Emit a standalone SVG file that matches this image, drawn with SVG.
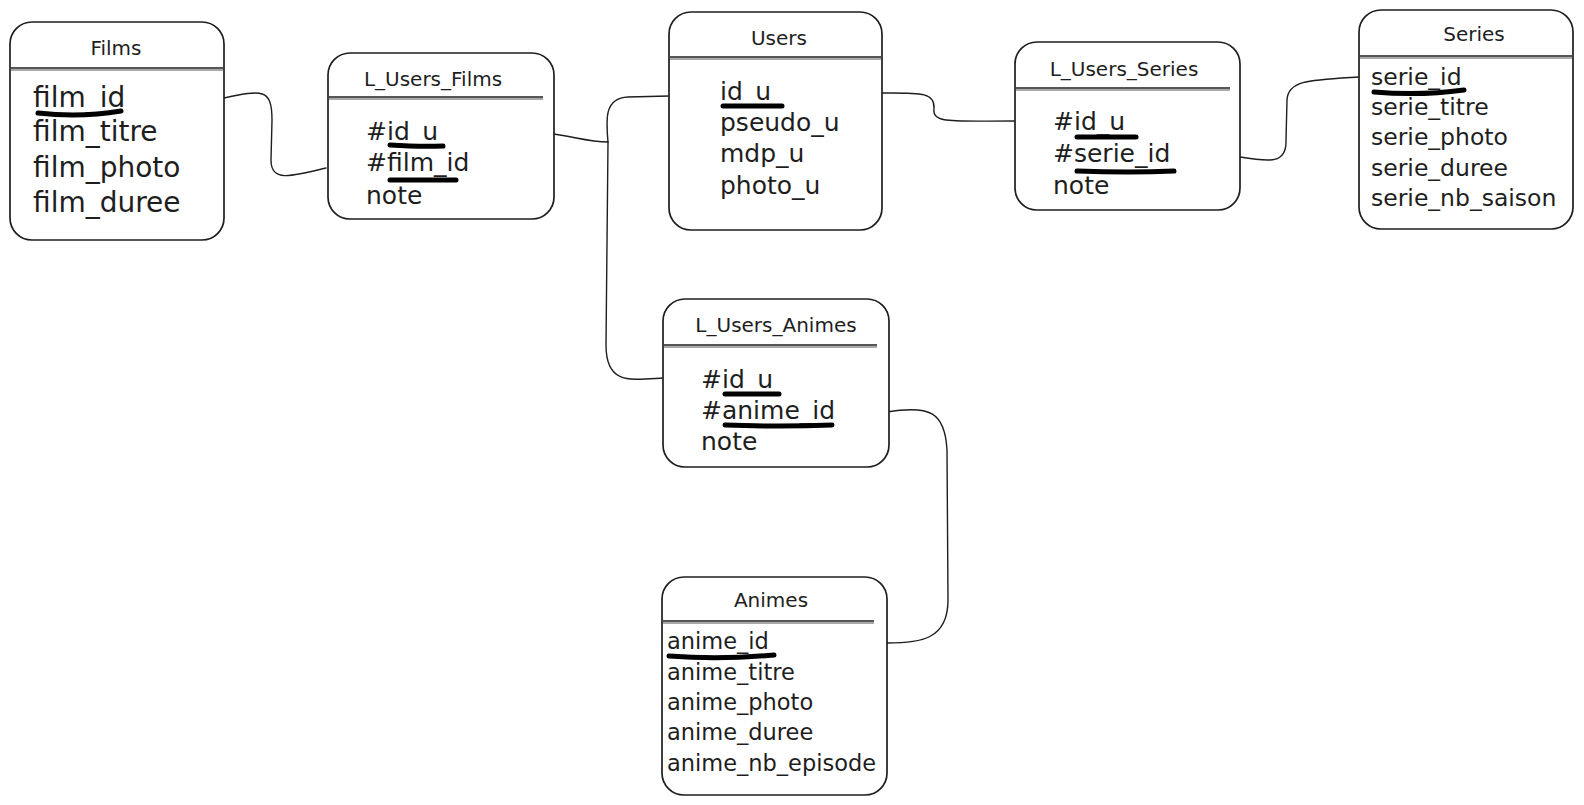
<svg xmlns="http://www.w3.org/2000/svg" width="1584" height="805" viewBox="0 0 1584 805">
<style>
.box{fill:#fff;stroke:#1e1e1e;stroke-width:1.7}
.sep{stroke:#1e1e1e;stroke-width:1.3;fill:none}
.sep2{stroke:#555;stroke-width:1;fill:none}
.title{font-family:"DejaVu Sans",sans-serif;font-size:20px;fill:#1e1e1e;text-anchor:middle}
.f{font-family:"DejaVu Sans",sans-serif;fill:#1e1e1e}
.ul{stroke:#000;stroke-width:5;stroke-linecap:round;fill:none}
.con{stroke:#1e1e1e;stroke-width:1.4;fill:none;stroke-linecap:round}
</style>
<rect width="1584" height="805" fill="#fff"/>
<g id="connectors">
<path class="con" d="M224,98 C262,90 272,88 272,120 L271,160 C271,182 290,177 326,168"/>
<path class="con" d="M554,134 C575,137 590,142 608,142 C606,120 604,98 628,97 L669,96"/>
<path class="con" d="M608,142 L606,345 C606,385 630,380 663,378"/>
<path class="con" d="M882,93 C920,93 935,92 934,108 C932,124 950,121 1015,121"/>
<path class="con" d="M1240,157 C1270,162 1287,164 1286,140 L1287,100 C1288,80 1310,80 1359,77"/>
<path class="con" d="M887,412 C930,405 945,412 947,450 L948,600 C948,640 920,643 887,643"/>
</g>
<g id="films">
<rect class="box" x="10" y="22" width="214" height="218" rx="22"/>
<line class="sep" x1="11" y1="68" x2="223" y2="68"/>
<line class="sep2" x1="11" y1="70" x2="223" y2="70"/>
<text class="title" x="116" y="55">Films</text>
<g class="f" font-size="28">
<text x="33" y="107">film_id</text>
<text x="33" y="141">film_titre</text>
<text x="33" y="177">film_photo</text>
<text x="33" y="212">film_duree</text>
</g>
<path class="ul" d="M38,113 Q80,118 121,111"/>
</g>
<g id="l_users_films">
<rect class="box" x="328" y="53" width="226" height="166" rx="22"/>
<line class="sep" x1="329" y1="97" x2="543" y2="97"/>
<line class="sep2" x1="329" y1="99" x2="543" y2="99"/>
<text class="title" x="433" y="86">L_Users_Films</text>
<g class="f" font-size="25">
<text x="366" y="140">#id_u</text>
<text x="366" y="171">#film_id</text>
<text x="366" y="204">note</text>
</g>
<path class="ul" d="M390,145 Q420,147 443,146"/>
<path class="ul" d="M390,180 L456,180"/>
</g>
<g id="users">
<rect class="box" x="669" y="12" width="213" height="218" rx="22"/>
<line class="sep" x1="670" y1="57" x2="881" y2="57"/>
<line class="sep2" x1="670" y1="59" x2="881" y2="59"/>
<text class="title" x="779" y="45">Users</text>
<g class="f" font-size="25">
<text x="720" y="100">id_u</text>
<text x="720" y="131">pseudo_u</text>
<text x="720" y="162">mdp_u</text>
<text x="720" y="194">photo_u</text>
</g>
<path class="ul" d="M723,106 L782,106"/>
</g>
<g id="l_users_series">
<rect class="box" x="1015" y="42" width="225" height="168" rx="22"/>
<line class="sep" x1="1016" y1="88" x2="1230" y2="88"/>
<line class="sep2" x1="1016" y1="90" x2="1230" y2="90"/>
<text class="title" x="1124" y="76">L_Users_Series</text>
<g class="f" font-size="25">
<text x="1053" y="130">#id_u</text>
<text x="1053" y="162">#serie_id</text>
<text x="1053" y="194">note</text>
</g>
<path class="ul" d="M1077,137 L1136,137"/>
<path class="ul" d="M1077,171 Q1130,173 1174,171"/>
</g>
<g id="series">
<rect class="box" x="1359" y="10" width="214" height="219" rx="22"/>
<line class="sep" x1="1360" y1="56" x2="1572" y2="56"/>
<line class="sep2" x1="1360" y1="58" x2="1572" y2="58"/>
<text class="title" x="1474" y="41">Series</text>
<g class="f" font-size="23.5">
<text x="1371" y="85">serie_id</text>
<text x="1371" y="115">serie_titre</text>
<text x="1371" y="145">serie_photo</text>
<text x="1371" y="176">serie_duree</text>
<text x="1371" y="206">serie_nb_saison</text>
</g>
<path class="ul" d="M1374,92 Q1420,96 1464,90"/>
</g>
<g id="l_users_animes">
<rect class="box" x="663" y="299" width="226" height="168" rx="22"/>
<line class="sep" x1="664" y1="345" x2="877" y2="345"/>
<line class="sep2" x1="664" y1="347" x2="877" y2="347"/>
<text class="title" x="776" y="332">L_Users_Animes</text>
<g class="f" font-size="25">
<text x="701" y="388">#id_u</text>
<text x="701" y="419">#anime_id</text>
<text x="701" y="450">note</text>
</g>
<path class="ul" d="M725,394 L779,394"/>
<path class="ul" d="M725,425 Q780,427 832,425"/>
</g>
<g id="animes">
<rect class="box" x="662" y="577" width="225" height="218" rx="22"/>
<line class="sep" x1="663" y1="621" x2="874" y2="621"/>
<line class="sep2" x1="663" y1="623" x2="874" y2="623"/>
<text class="title" x="771" y="607">Animes</text>
<g class="f" font-size="22.5">
<text x="667" y="649">anime_id</text>
<text x="667" y="680">anime_titre</text>
<text x="667" y="710">anime_photo</text>
<text x="667" y="740">anime_duree</text>
<text x="667" y="771">anime_nb_episode</text>
</g>
<path class="ul" d="M669,656 Q720,660 774,655"/>
</g>
</svg>
